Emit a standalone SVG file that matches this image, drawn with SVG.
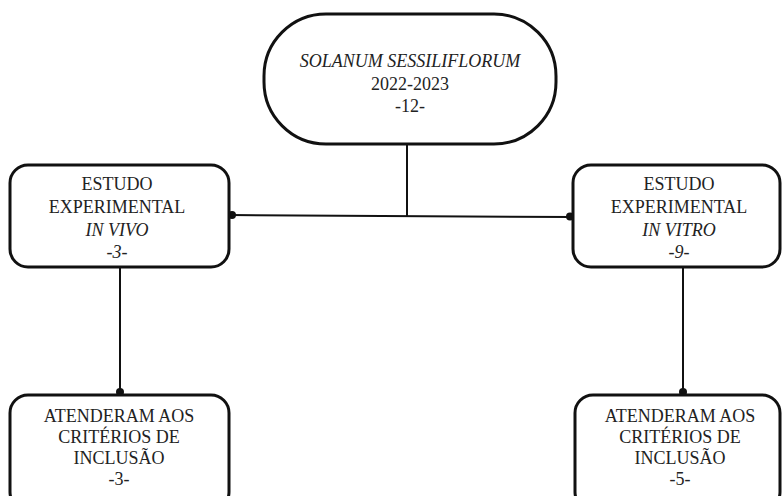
<svg xmlns="http://www.w3.org/2000/svg" width="783" height="496" viewBox="0 0 783 496">
<style>
.box{fill:#fff;stroke:#111;stroke-width:3}
.t{font-family:"Liberation Serif","Times New Roman",serif;font-size:18px;fill:#222;text-anchor:middle}
.i{font-style:italic}
.c{stroke:#111;stroke-width:2;fill:none}
.d{fill:#111}
</style>
<rect width="783" height="496" fill="#fff"/>
<g id="connectors">
<line class="c" x1="407" y1="144" x2="407" y2="216"/>
<line class="c" x1="230" y1="215" x2="572" y2="217"/>
<line class="c" x1="120" y1="267" x2="120" y2="393"/>
<line class="c" x1="683" y1="267" x2="683" y2="393"/>
<circle class="d" cx="232" cy="215" r="4"/>
<circle class="d" cx="570" cy="216.5" r="4"/>
<circle class="d" cx="120" cy="392" r="4"/>
<circle class="d" cx="683" cy="392" r="4"/>
</g>
<g id="top">
<rect class="box" x="264" y="14" width="292" height="130" rx="62"/>
<text class="t i" x="410" y="67">SOLANUM SESSILIFLORUM</text>
<text class="t" x="410" y="90">2022-2023</text>
<text class="t" x="410" y="112">-12-</text>
</g>
<g id="invivo">
<rect class="box" x="10" y="165" width="219" height="102" rx="18"/>
<text class="t" x="117" y="190">ESTUDO</text>
<text class="t" x="117" y="213">EXPERIMENTAL</text>
<text class="t i" x="117" y="236">IN VIVO</text>
<text class="t i" x="117" y="258">-3-</text>
</g>
<g id="invitro">
<rect class="box" x="573" y="165" width="207" height="102" rx="18"/>
<text class="t" x="679" y="190">ESTUDO</text>
<text class="t" x="679" y="213">EXPERIMENTAL</text>
<text class="t i" x="679" y="236">IN VITRO</text>
<text class="t i" x="679" y="258">-9-</text>
</g>
<g id="incl1">
<rect class="box" x="10" y="395" width="219" height="115" rx="18"/>
<text class="t" x="119" y="422">ATENDERAM AOS</text>
<text class="t" x="119" y="443">CRITÉRIOS DE</text>
<text class="t" x="119" y="464">INCLUSÃO</text>
<text class="t" x="119" y="485">-3-</text>
</g>
<g id="incl2">
<rect class="box" x="575" y="395" width="205" height="115" rx="18"/>
<text class="t" x="680" y="422">ATENDERAM AOS</text>
<text class="t" x="680" y="443">CRITÉRIOS DE</text>
<text class="t" x="680" y="464">INCLUSÃO</text>
<text class="t" x="680" y="485">-5-</text>
</g>
</svg>
